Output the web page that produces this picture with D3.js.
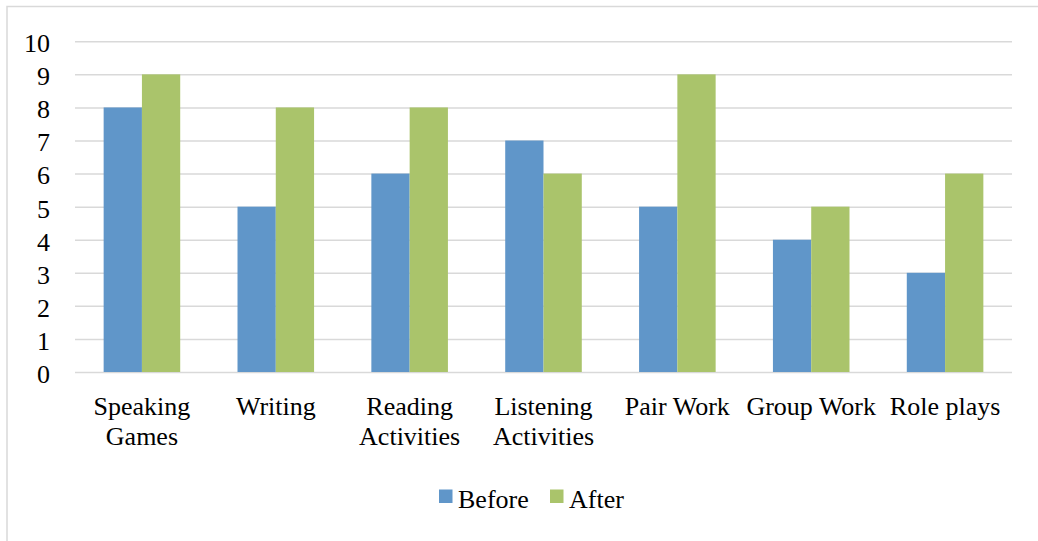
<!DOCTYPE html>
<html>
<head>
<meta charset="utf-8">
<script src="https://cdn.jsdelivr.net/npm/d3@7/dist/d3.min.js"></script>
<style>
html,body{margin:0;padding:0;background:#fff;}
svg{display:block;}
</style>
</head>
<body>
<svg id="chart" width="1038" height="541"></svg>
<script>
const categories = [["Speaking","Games"],["Writing"],["Reading","Activities"],["Listening","Activities"],["Pair Work"],["Group Work"],["Role plays"]];
const seriesNames = ["Before","After"];
const before = [8,5,6,7,5,4,3];
const after = [9,8,8,6,9,5,6];
const yTicks = [0,1,2,3,4,5,6,7,8,9,10];
const colors = ["#6096C9","#AAC46B"];

const FONT = "'Liberation Serif', 'Times New Roman', Times, serif";
const FS = "26px";
const svg = d3.select("#chart");
const W = 1038, H = 541;
const plot = {left:75, right:1012, top:41.3, bottom:372};

// outer chart border
svg.append("rect").attr("x",7).attr("y",6.5).attr("width",W).attr("height",H)
  .attr("fill","none").attr("stroke","#D9D9D9").attr("stroke-width",1.5);

const labels = categories.map(c=>c.join(" "));
const x = d3.scaleBand().domain(labels).range([plot.left,plot.right]).paddingInner(0.428).paddingOuter(0.214);
const x1 = d3.scaleBand().domain(seriesNames).range([0,x.bandwidth()]);
const y = d3.scaleLinear().domain([0,10]).range([plot.bottom,plot.top]);

// gridlines + y labels
const yAxis = d3.axisLeft(y).tickValues(yTicks).tickSize(-(plot.right-plot.left)).tickPadding(25).tickFormat(d3.format("d"));
const gy = svg.append("g").attr("transform",`translate(${plot.left},0)`).call(yAxis);
gy.attr("font-family",null).attr("font-size",null);
gy.select(".domain").remove();
gy.selectAll(".tick line").attr("stroke","#D9D9D9").attr("stroke-width",1.5);
gy.selectAll(".tick text").style("font-family",FONT).style("font-size",FS).attr("fill","#000").attr("dy","0.4em");

// bars
const data = labels.map((l,i)=>({label:l, values:[before[i],after[i]]}));
const groups = svg.append("g").selectAll("g").data(data).join("g")
  .attr("transform",d=>`translate(${x(d.label)},0)`);
groups.selectAll("rect").data(d=>d.values.map((v,j)=>({s:seriesNames[j],v,j}))).join("rect")
  .attr("x",d=>x1(d.s)).attr("width",x1.bandwidth())
  .attr("y",d=>y(d.v)).attr("height",d=>y(0)-y(d.v))
  .attr("fill",d=>colors[d.j]);

// x axis labels
const xAxis = d3.axisBottom(x).tickSize(0).tickFormat("");
const gx = svg.append("g").attr("transform",`translate(0,${plot.bottom})`).call(xAxis);
gx.attr("font-family",null).attr("font-size",null);
gx.select(".domain").remove();
gx.selectAll(".tick").each(function(d,i){
  const t = d3.select(this).append("text").attr("text-anchor","middle")
    .style("font-family",FONT).style("font-size",FS).attr("fill","#000");
  categories[i].forEach((line,k)=>{
    t.append("tspan").attr("x",0).attr("y",43+k*30).text(line);
  });
});

// legend
const legendItems = [{name:"Before",x:439},{name:"After",x:550}];
const lg = svg.append("g");
legendItems.forEach((it,i)=>{
  lg.append("rect").attr("x",it.x).attr("y",489.5).attr("width",13.5).attr("height",13.5).attr("fill",colors[i]);
  lg.append("text").attr("x",it.x+19).attr("y",507.5)
    .style("font-family",FONT).style("font-size",FS).attr("fill","#000").text(it.name);
});
</script>
</body>
</html>
